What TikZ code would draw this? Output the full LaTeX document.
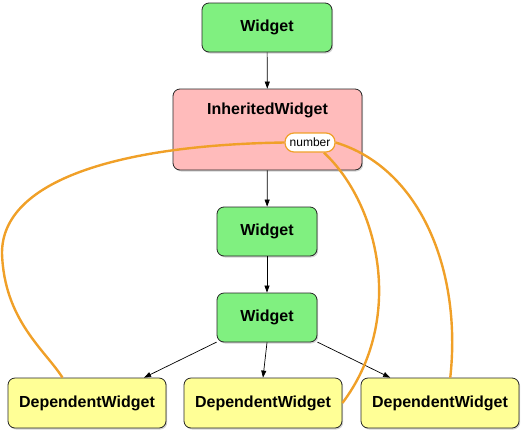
\documentclass[tikz,border=0pt]{standalone}
\usepackage{fontspec}
\setmainfont{Liberation Sans}
\usetikzlibrary{arrows.meta,shadows}

\definecolor{widgetgreen}{RGB}{128,240,128}
\definecolor{inhpink}{RGB}{255,187,187}
\definecolor{depyellow}{RGB}{255,255,150}
\definecolor{deporange}{RGB}{240,160,40}

\pgfdeclarelayer{front}
\pgfsetlayers{main,front}

\begin{document}
\begin{tikzpicture}[x=1pt,y=-1pt,
  box/.style={draw=black!85, line width=0.8pt, rounded corners=7pt, inner sep=0pt,
    font=\bfseries\fontsize{16}{19}\selectfont,
    drop shadow={opacity=0.35, shadow xshift=1.2pt, shadow yshift=-1.5pt}},
  widget/.style={box, fill=widgetgreen},
  dependent/.style={box, fill=depyellow, minimum width=158pt, minimum height=50pt},
  link/.style={-{Triangle[length=7pt,width=5pt]}, line width=0.7pt, black},
  dep/.style={deporange, line width=2.4pt},
  bubble/.style={draw=deporange, line width=1.2pt, fill=white, rounded corners=9pt,
    minimum width=50pt, minimum height=19pt, inner sep=0pt,
    font=\fontsize{12}{14}\selectfont}]
  \useasboundingbox (0,0) rectangle (529,434);

  % Tree
  \node[widget, minimum width=130pt, minimum height=49pt] (w1) at (267,27.5) {Widget};
  \node[box, fill=inhpink, minimum width=189pt, minimum height=81pt] (inh) at (267.5,129.5) {};
  \node[font=\bfseries\fontsize{16}{19}\selectfont] (inhtitle) at (267.5,110) {InheritedWidget};
  \node[widget, minimum width=100pt, minimum height=49pt] (w2) at (267,231.5) {Widget};
  \node[widget, minimum width=100pt, minimum height=49pt] (w3) at (267,317.5) {Widget};

  % Dependents
  \foreach \i/\x in {1/87,2/263,3/440}
    \node[dependent] (dep\i) at (\x,403) {DependentWidget};

  % Edges
  \draw[link] (w1) -- (inh);
  \draw[link] (inh) -- (w2);
  \draw[link] (w2) -- (w3);
  \draw[link] (w3.206) -- (dep1.24);
  \draw[link] (w3.south) -- (dep2.north);
  \draw[link] (w3.334) -- (dep3.153);

  % Dependency value
  \begin{pgfonlayer}{front}
    \node[bubble] (num) at (310,142.5) {number};
  \end{pgfonlayer}

  % Dependencies
  \draw[dep] (num.west) .. controls (120,145) and (2,180) .. (2,253)
    .. controls (4,320) and (45,350) .. (dep1.134);
  \draw[dep] (num.-36) .. controls (380,205) and (405,320) .. (dep2.east);
  \draw[dep] (num.east) .. controls (420,168) and (462,270) .. (dep3.68);
\end{tikzpicture}
\end{document}
